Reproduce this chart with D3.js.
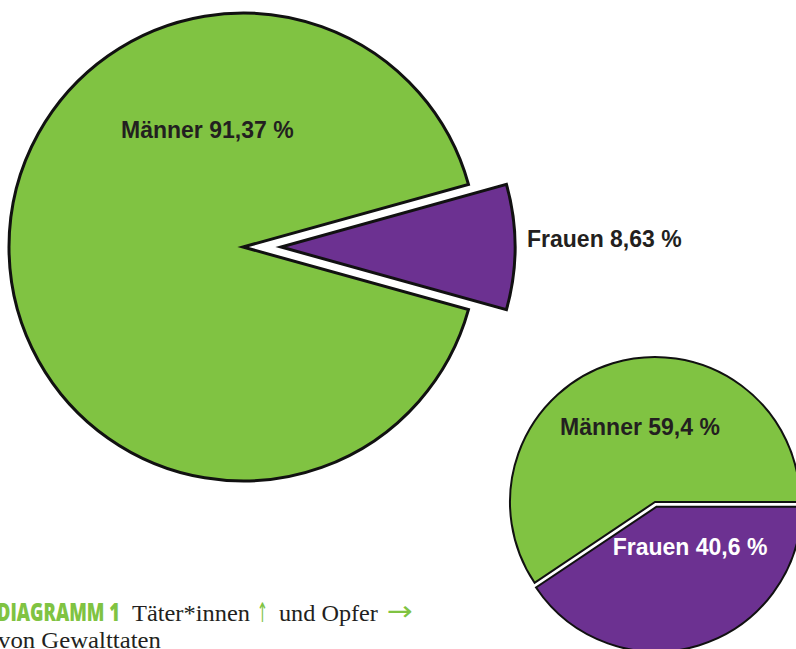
<!DOCTYPE html>
<html><head><meta charset="utf-8">
<script src="https://cdn.jsdelivr.net/npm/d3@7"></script>
<style>html,body{margin:0;padding:0;background:#fff;overflow:hidden}</style>
</head><body>
<svg id="c" width="796" height="649"></svg>
<script>
// --- data ---
const categories = ["Männer", "Frauen"];
const taeterValues = [91.37, 8.63];   // Täter*innen (big pie)
const opferValues = [59.4, 40.6];     // Opfer (small pie)
const taeterLabels = ["Männer 91,37 %", "Frauen 8,63 %"];
const opferLabels = ["Männer 59,4 %", "Frauen 40,6 %"];
const captionTitle = "DIAGRAMM 1";
const captionParts = ["Täter*innen", "↑", "und Opfer", "→"];
const captionLine2 = "von Gewalttaten";

// --- style ---
const colors = d3.scaleOrdinal().domain(categories).range(["#80c342", "#6c3191"]);
const svg = d3.select("#c");

function drawPie(cfg) {
  const total = d3.sum(cfg.values);
  const pie = d3.pie().sort(null).value(d => d)
    .startAngle(cfg.start(total)).endAngle(cfg.start(total) + 2 * Math.PI);
  const arcs = pie(cfg.values);
  const arc = d3.arc().innerRadius(0).outerRadius(cfg.r);
  const g = svg.append("g").attr("transform", `translate(${cfg.cx},${cfg.cy})`);
  g.selectAll("path").data(arcs).join("path")
    .attr("d", arc)
    .attr("fill", (d, i) => colors(categories[i]))
    .attr("stroke", "#111")
    .attr("stroke-width", cfg.sw)
    .attr("stroke-linejoin", "miter")
    .attr("transform", (d, i) => {
      const off = cfg.explode[i];
      const a = (d.startAngle + d.endAngle) / 2;
      return `translate(${off * Math.sin(a)},${-off * Math.cos(a)})`;
    });
  g.selectAll("text").data(arcs).join("text")
    .attr("x", (d, i) => cfg.labelPos[i][0])
    .attr("y", (d, i) => cfg.labelPos[i][1])
    .attr("text-anchor", (d, i) => cfg.anchor[i])
    .attr("fill", (d, i) => cfg.labelColor[i])
    .attr("font-family", "Liberation Sans, Arial, sans-serif")
    .attr("font-weight", "bold")
    .attr("font-size", 23)
    .text((d, i) => cfg.labels[i]);
}

// big pie: Frauen slice centred on the east direction
drawPie({
  values: taeterValues, labels: taeterLabels,
  cx: 243, cy: 247, r: 234, sw: 3,
  start: t => Math.PI / 2 + Math.PI * taeterValues[1] / t,
  explode: [0, 38],
  labelPos: [[-122, -109], [284, 0]],
  anchor: ["start", "start"],
  labelColor: ["#231f20", "#231f20"]
});

// small pie: Männer ends at east, Frauen starts at east
drawPie({
  values: opferValues, labels: opferLabels,
  cx: 655, cy: 502, r: 145, sw: 2,
  start: t => Math.PI / 2 - 2 * Math.PI * opferValues[0] / t,
  explode: [0, 5],
  labelPos: [[-15, -67], [35, 53]],
  anchor: ["middle", "middle"],
  labelColor: ["#231f20", "#ffffff"]
});

// caption: each text is scaled horizontally to the width it has in the reference
function fitText(x, y, str, width, font, size, weight, color) {
  const g = svg.append("g");
  const t = g.append("text").attr("x", 0).attr("y", 0)
    .attr("font-family", font).attr("font-size", size)
    .attr("font-weight", weight).attr("fill", color).text(str);
  const w = t.node().getComputedTextLength();
  g.attr("transform", `translate(${x},${y}) scale(${width / w},1)`);
}
const serif = "Liberation Serif, Times New Roman, serif";
const arrowFont = "DejaVu Sans, sans-serif";
fitText(-3, 621, captionTitle, 123, "Open Sans, Lato, sans-serif", 24, 800, "#80c342");
const partX = [132, 257, 279, 387];
const partY = [621, 622, 621, 620];
const partLen = [118, 11, 99, 26];
const partSize = [24, 27, 24, 27];
const partFont = [serif, arrowFont, serif, arrowFont];
const partColor = ["#231f20", "#80c342", "#231f20", "#80c342"];
captionParts.forEach((p, i) =>
  fitText(partX[i], partY[i], p, partLen[i], partFont[i], partSize[i], 400, partColor[i]));
fitText(-2, 648, captionLine2, 163, serif, 24, 400, "#231f20");
</script>
</body></html>
